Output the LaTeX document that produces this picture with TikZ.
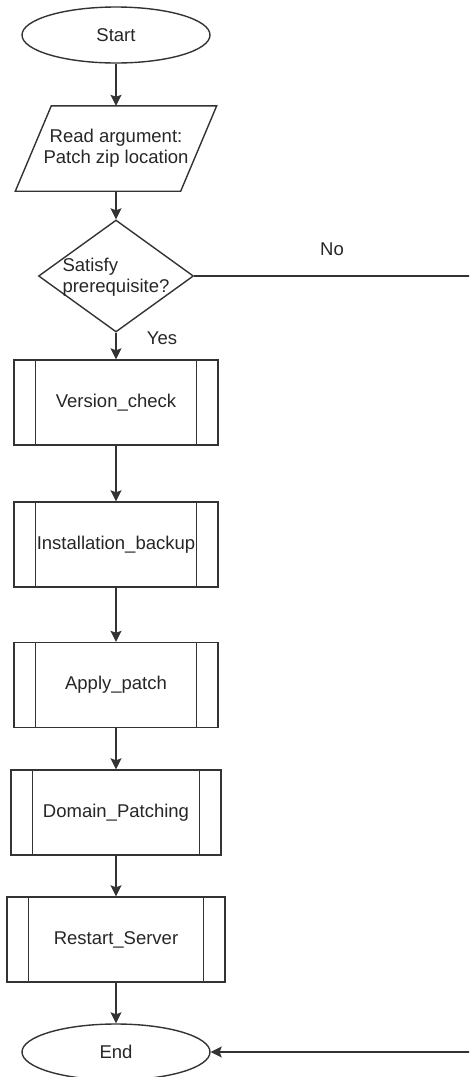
\documentclass[tikz,border=0pt]{standalone}
\usepackage{fontspec}
\setmainfont{Liberation Sans}
\usetikzlibrary{shapes.geometric,arrows.meta}
\begin{document}
\begin{tikzpicture}[x=1pt,y=-1pt,
  every node/.style={font=\fontsize{18.5}{21}\selectfont, text=black!85},
  lc/.style={draw=black!80, line width=1.4pt},
  conn/.style={lc, -{Stealth[length=11pt,width=11pt,inset=2pt]}},
  term/.style={ellipse, lc, minimum width=188pt, minimum height=56pt, inner sep=0pt},
  procbox/.style={rectangle, lc, minimum height=85pt, inner sep=0pt,
    path picture={\draw[black!80, line width=1.4pt]
      ([xshift=21.5pt]path picture bounding box.north west) -- ([xshift=21.5pt]path picture bounding box.south west)
      ([xshift=-21.5pt]path picture bounding box.north east) -- ([xshift=-21.5pt]path picture bounding box.south east);}},
  lbl/.style={inner sep=0pt}
]
\path[use as bounding box, clip] (0,0) rectangle (469,1077);

\node[term] (start) at (116,35) {Start};
\node[minimum width=165pt, minimum height=85pt, inner sep=0pt, align=center] (read) at (116,148.5) {Read argument:\\Patch zip location};
\draw[lc, line join=miter] ([xshift=18pt]read.north west) -- ([xshift=18pt]read.north east) -- ([xshift=-18pt]read.south east) -- ([xshift=-18pt]read.south west) -- cycle;
\node[diamond, lc, minimum width=155pt, minimum height=112pt, inner sep=0pt] (dec) at (116,276) {};
\node[align=left, inner sep=0pt] (dectext) at (116,277) {Satisfy\\prerequisite?};

\node[procbox, minimum width=204pt] (ver) at (116,402.5) {Version\_check};
\node[procbox, minimum width=204pt] (inst) at (116,544.5) {Installation\_backup};
\node[procbox, minimum width=204pt] (apply) at (116,685) {Apply\_patch};
\node[procbox, minimum width=210pt] (dom) at (116,812.5) {Domain\_Patching};
\node[procbox, minimum width=218pt] (rest) at (116,939.5) {Restart\_Server};
\node[term] (end) at (116,1052) {End};

\draw[conn] (start) -- (read);
\draw[conn] (read) -- (dec);
\draw[conn] (dec) -- (ver);
\node[lbl] (yes) at (162,338) {Yes};
\draw[conn] (ver) -- (inst);
\draw[conn] (inst) -- (apply);
\draw[conn] (apply) -- (dom);
\draw[conn] (dom) -- (rest);
\draw[conn] (rest) -- (end);

\coordinate (c1) at (476,276);
\coordinate (c2) at (476,1052);
\draw[conn] (dec.east) -- (c1) -- (c2) -- (end.east);
\node[lbl] (no) at (332,249) {No};
\end{tikzpicture}
\end{document}
